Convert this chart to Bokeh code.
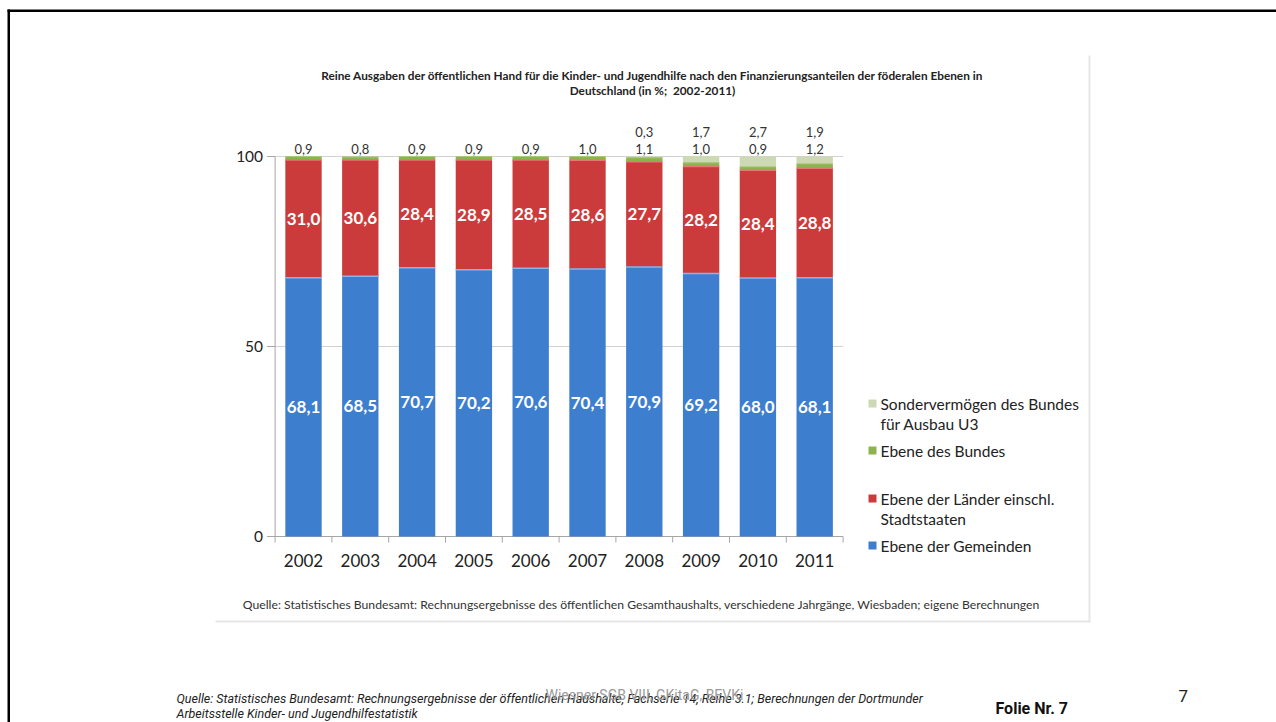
from bokeh.plotting import figure
from bokeh.models import Range1d, Label, BoxAnnotation, ColumnDataSource
from bokeh.core.properties import value
from bokeh.embed import file_html
from bokeh.resources import INLINE

# ---------------- data ----------------
years = ["2002", "2003", "2004", "2005", "2006", "2007", "2008", "2009", "2010", "2011"]
gemeinden = [68.1, 68.5, 70.7, 70.2, 70.6, 70.4, 70.9, 69.2, 68.0, 68.1]
laender = [31.0, 30.6, 28.4, 28.9, 28.5, 28.6, 27.7, 28.2, 28.4, 28.8]
bund = [0.9, 0.8, 0.9, 0.9, 0.9, 1.0, 1.1, 1.0, 0.9, 1.2]
sonder = [0.0, 0.0, 0.0, 0.0, 0.0, 0.0, 0.3, 1.7, 2.7, 1.9]
y_ticks = [0, 50, 100]
grid_ticks = [50, 100]

title_1 = ("Reine Ausgaben der öffentlichen Hand für die Kinder- und Jugendhilfe nach den "
           "Finanzierungsanteilen der föderalen Ebenen in")
title_2 = "Deutschland (in %;\u00a0 2002-2011)"
source_txt = ("Quelle: Statistisches Bundesamt: Rechnungsergebnisse des öffentlichen Gesamthaushalts, "
              "verschiedene Jahrgänge, Wiesbaden; eigene Berechnungen")
legend_entries = [["Sondervermögen des Bundes", "für Ausbau U3"],
                  ["Ebene des Bundes"],
                  ["Ebene der Länder einschl.", "Stadtstaaten"],
                  ["Ebene der Gemeinden"]]
footer_1 = ("Quelle: Statistisches Bundesamt: Rechnungsergebnisse der öffentlichen Haushalte, "
            "Fachserie 14, Reihe 3.1; Berechnungen der Dortmunder")
footer_2 = "Arbeitsstelle Kinder- und Jugendhilfestatistik"
watermark = "Wiesner SGB VIII, GKitaG, BEVKi"
folie = "Folie Nr. 7"
page_no = "7"

# ---------------- style ----------------
C_BLUE = "#3e7ecf"
C_RED = "#cc3b3b"
C_GREEN = "#8db34e"
C_SONDER = "#cdd8b4"
C_AXIS = "#a6a6a6"
FONT = "Lato"

W, H = 1276, 722
PX_X = 56.8      # pixels per category
PX_Y = 3.8       # pixels per percent point
X0_PX = 274.6    # canvas x of the category axis start
Y0_PX = 536.0    # canvas y of value 0

p = figure(x_range=Range1d(-X0_PX / PX_X, (W - X0_PX) / PX_X),
           y_range=Range1d(-(H - Y0_PX) / PX_Y, Y0_PX / PX_Y),
           width=W, height=H, output_backend="svg", toolbar_location=None,
           x_axis_location=None, y_axis_location=None,
           min_border=0, outline_line_color=None)
p.xgrid.visible = False
p.ygrid.visible = False
p.background_fill_color = "white"
p.border_fill_color = "white"

def fmt(v):
    return f"{v:.1f}".replace(".", ",")

n = len(years)
xpos = [i + 0.5 for i in range(n)]
BW = 0.64

# grid lines and axes
p.segment(x0=[0] * len(grid_ticks), y0=grid_ticks, x1=[n] * len(grid_ticks), y1=grid_ticks,
          line_color="#d2d2d2", line_width=1)
p.segment(x0=[0], y0=[0], x1=[n], y1=[0], line_color=C_AXIS, line_width=1)
p.segment(x0=[0], y0=[0], x1=[0], y1=[max(y_ticks)], line_color=C_AXIS, line_width=1)
p.segment(x0=[-8 / PX_X] * len(y_ticks), y0=y_ticks, x1=[0] * len(y_ticks), y1=y_ticks,
          line_color=C_AXIS, line_width=1)
p.segment(x0=list(range(n + 1)), y0=[0] * (n + 1), x1=list(range(n + 1)),
          y1=[-6 / PX_Y] * (n + 1), line_color=C_AXIS, line_width=1)

# bars
src = ColumnDataSource(dict(x=xpos, g=gemeinden, l=laender, b=bund, s=sonder))
p.vbar_stack(["g", "l", "b", "s"], x="x", width=BW, source=src,
             color=[C_BLUE, C_RED, C_GREEN, C_SONDER], line_color=None)

tops_g = gemeinden
tops_l = [a + b for a, b in zip(gemeinden, laender)]
tops_b = [a + b for a, b in zip(tops_l, bund)]
p.rect(x=xpos, y=tops_g, width=BW, height=0.4, color="#86b6ee", line_color=None)
p.rect(x=xpos, y=tops_l, width=BW, height=0.4, color="#e77676", line_color=None)
p.rect(x=xpos, y=tops_b, width=BW, height=0.3, color="#a9c97a", line_color=None)

# value labels inside bars
g_mid = [v / 2 for v in gemeinden]
l_mid = [g + l / 2 for g, l in zip(gemeinden, laender)]
for ys, vals in ((g_mid, gemeinden), (l_mid, laender)):
    p.text(x=xpos, y=ys, text=[fmt(v) for v in vals], text_color="white",
           text_font=value(FONT), text_font_style="bold", text_font_size="17px",
           text_align="center", text_baseline="middle")

# labels above bars
p.text(x=xpos, y=[102.0] * n, text=[fmt(v) for v in bund], text_color="#333333",
       text_font=value(FONT), text_font_size="13px", text_align="center",
       text_baseline="middle")
sx = [x for x, v in zip(xpos, sonder) if v > 0]
sv = [fmt(v) for v in sonder if v > 0]
p.text(x=sx, y=[106.5] * len(sx), text=sv, text_color="#333333",
       text_font=value(FONT), text_font_size="13px", text_align="center",
       text_baseline="middle")

# tick labels
p.text(x=xpos, y=[-24 / PX_Y] * n, text=years, text_color="#222222",
       text_font=value(FONT), text_font_size="17px", text_align="center",
       text_baseline="middle")
p.text(x=[-12 / PX_X] * len(y_ticks), y=y_ticks, text=[str(t) for t in y_ticks],
       text_color="#222222", text_font=value(FONT), text_font_size="15.5px",
       text_align="right", text_baseline="middle")

# ---------------- texts (canvas units) ----------------
def lab(x, y, t, size, color="#222222", style="normal", align="left", font=FONT):
    p.add_layout(Label(x=x, y=y, x_units="canvas", y_units="canvas", text=t,
                       text_font=font, text_font_size=size, text_color=color,
                       text_font_style=style, text_align=align, text_baseline="middle"))

def box(l, r, t, b, col):
    p.add_layout(BoxAnnotation(left=l, right=r, top=t, bottom=b,
                               left_units="canvas", right_units="canvas",
                               top_units="canvas", bottom_units="canvas",
                               fill_color=col, fill_alpha=1, line_color=None))

lab(652, 75, title_1, "11.8px", style="bold", align="center")
lab(652, 90, title_2, "11.8px", style="bold", align="center")
lab(641, 604, source_txt, "12.2px", color="#333333", align="center")

# legend
leg_y = [403, 450, 498, 545]
leg_col = [C_SONDER, C_GREEN, C_RED, C_BLUE]
for yy, lines, col in zip(leg_y, legend_entries, leg_col):
    box(868, 876, yy - 4, yy + 4, col)
    for i, t in enumerate(lines):
        lab(880, yy + i * 20, t, "15.5px", color="#222222")

# chart picture frame (faint)
box(1088, 1090, 55, 622, "#e6e6e6")
box(215, 1090, 620, 622, "#e6e6e6")

# slide border (top & left)
box(7, W, 9, 11.5, "black")
box(7, 9.5, 9, H, "black")

# footer
lab(176, 698, footer_1, "12.5px", color="#222222", style="italic", font="Roboto")
lab(176, 713, footer_2, "12.5px", color="#222222", style="italic", font="Roboto")
lab(545, 694, watermark, "14px", color="#9a9a9a", font="Roboto")
lab(995, 708, folie, "16px", color="#111111", style="bold", font="Roboto")
lab(1178, 695, page_no, "17px", color="#222222", font="Roboto")

open("out.html", "w").write(file_html(p, INLINE))
